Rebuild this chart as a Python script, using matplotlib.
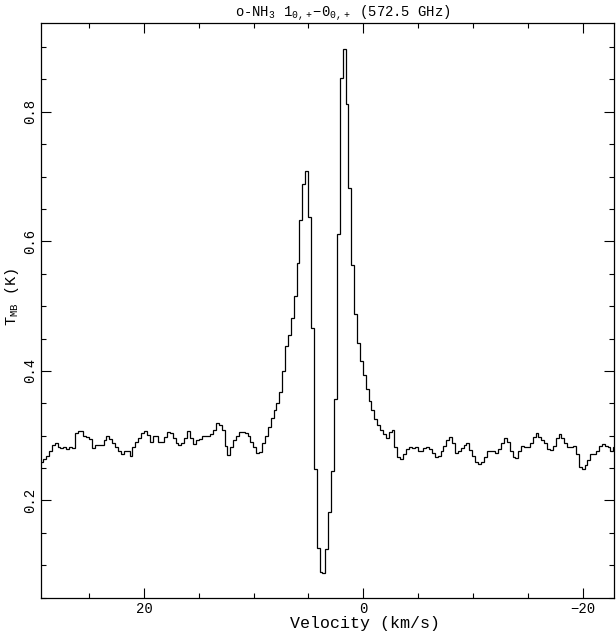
import numpy as np
import matplotlib
matplotlib.use("Agg")
import matplotlib.pyplot as plt
from matplotlib.ticker import MultipleLocator

# spectrum: o-NH3 572.5 GHz, main beam temperature per channel (K)
# channels start at v = 29.47 km/s and step down by 0.2627 km/s
v_first_edge = 29.47
channel_width = 0.2627

tmb = [
    # baseline, high velocity side
    0.260, 0.264, 0.269, 0.276, 0.285, 0.288, 0.283, 0.281, 0.283, 0.280,
    0.282, 0.281, 0.304, 0.308, 0.308, 0.300, 0.298, 0.295, 0.281, 0.285,
    0.286, 0.286, 0.294, 0.299, 0.295, 0.289, 0.283, 0.276, 0.272, 0.276,
    0.277, 0.269, 0.283, 0.291, 0.296, 0.304, 0.307, 0.301, 0.291, 0.300,
    0.300, 0.291, 0.290, 0.298, 0.305, 0.304, 0.297, 0.288, 0.285, 0.289,
    0.296, 0.307, 0.296, 0.287, 0.294, 0.295, 0.300, 0.299, 0.300, 0.302,
    0.309, 0.319, 0.317, 0.309, 0.284, 0.270, 0.283, 0.294, 0.300, 0.305,
    0.305, 0.304, 0.299, 0.290, 0.283, 0.274, 0.275, 0.289, 0.299, 0.313,
    # line wings, peaks and absorption
    0.328, 0.340, 0.351, 0.368, 0.400, 0.438, 0.456, 0.482, 0.516, 0.567,
    0.633, 0.689, 0.709, 0.638, 0.466, 0.249, 0.126, 0.090, 0.088, 0.125,
    0.182, 0.245, 0.356, 0.611, 0.852, 0.897, 0.812, 0.682, 0.564, 0.488,
    0.443, 0.416, 0.394, 0.372, 0.354, 0.340, 0.326, 0.317,
    # baseline, low velocity side
    0.309, 0.303, 0.296, 0.306, 0.309, 0.283, 0.267, 0.264, 0.272, 0.279,
    0.282, 0.281, 0.283, 0.277, 0.276, 0.281, 0.283, 0.279, 0.273, 0.267,
    0.269, 0.277, 0.284, 0.294, 0.298, 0.288, 0.274, 0.276, 0.281, 0.286,
    0.288, 0.278, 0.268, 0.260, 0.257, 0.259, 0.267, 0.277, 0.277, 0.276,
    0.274, 0.279, 0.289, 0.296, 0.291, 0.277, 0.267, 0.265, 0.276, 0.284,
    0.283, 0.283, 0.289, 0.298, 0.304, 0.298, 0.293, 0.288, 0.279, 0.278,
    0.284, 0.296, 0.302, 0.296, 0.288, 0.283, 0.282, 0.284, 0.271, 0.251,
    0.248, 0.255, 0.262, 0.271, 0.272, 0.277, 0.284, 0.287, 0.284, 0.282,
    0.277, 0.282,
]

edges = v_first_edge - channel_width * np.arange(len(tmb) + 1)

plt.rcParams['font.family'] = ['Liberation Mono', 'DejaVu Sans Mono']
plt.rcParams['mathtext.fontset'] = 'custom'
plt.rcParams['mathtext.rm'] = 'Liberation Mono'
plt.rcParams['mathtext.it'] = 'Liberation Mono'

fig = plt.figure(figsize=(6.16, 6.32), dpi=100)
ax = fig.add_axes([0.0666, 0.0543, 0.9307, 0.9093])

ax.stairs(tmb, edges, color='black', linewidth=0.9)

ax.set_xlim(29.4, -22.9)
ax.set_ylim(0.05, 0.937)

ax.xaxis.set_major_locator(MultipleLocator(20))
ax.xaxis.set_minor_locator(MultipleLocator(5))
ax.yaxis.set_major_locator(MultipleLocator(0.2))
ax.yaxis.set_minor_locator(MultipleLocator(0.05))
ax.tick_params(which='both', direction='in', top=True, right=True,
               width=0.8, labelsize=10, color='black')
ax.tick_params(which='major', length=7.5, pad=3)
ax.tick_params(which='minor', length=3.8)
for lab in ax.get_yticklabels():
    lab.set_rotation(90)
    lab.set_va('center')
for sp in ax.spines.values():
    sp.set_linewidth(0.9)

ax.set_xlabel('Velocity (km/s)', fontsize=12)
ax.xaxis.set_label_coords(0.565, -0.0575, transform=ax.transAxes)
ax.xaxis.label.set_va('bottom')
ax.set_ylabel(r'T$_{\mathrm{MB}}$ (K)', fontsize=11, labelpad=1)
ax.yaxis.label.set_y(0.523)
ax.set_title(r'o-NH$_3$ 1$_{0,+}$$-$0$_{0,+}$ (572.5 GHz)', fontsize=10, pad=1,
             x=0.527)

fig.savefig('out.png', dpi=100)
